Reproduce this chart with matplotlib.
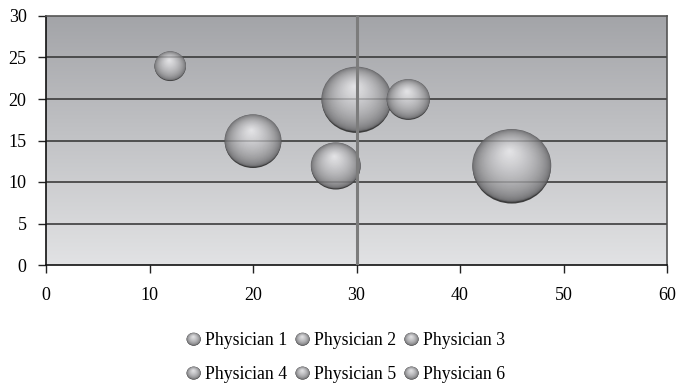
import numpy as np
import matplotlib
matplotlib.use("Agg")
import matplotlib.pyplot as plt
from matplotlib.patches import Ellipse, Patch
from matplotlib.legend_handler import HandlerBase

# data
names = ["Physician 1", "Physician 2", "Physician 3",
         "Physician 4", "Physician 5", "Physician 6"]
xs = [12, 20, 28, 30, 35, 45]
ys = [24, 15, 12, 20, 20, 12]
sizes = [16, 52, 40, 79, 30, 100]

xticks = [0, 10, 20, 30, 40, 50, 60]
yticks = [0, 5, 10, 15, 20, 25, 30]

plt.rcParams['font.family'] = ['Liberation Serif', 'DejaVu Serif']

W, H, DPI = 680, 383, 100
fig = plt.figure(figsize=(W/DPI, H/DPI), dpi=DPI)
left, right, bot, top = 46/W, 667/W, 1-265/H, 1-16/H
ax = fig.add_axes([left, bot, right-left, top-bot])
ax.set_xlim(0, 60)
ax.set_ylim(0, 30)

# gradient background
grad = np.linspace(0, 1, 256)[:, None]
c_top = np.array([0.64, 0.645, 0.66])
c_bot = np.array([0.885, 0.888, 0.895])
img = c_bot[None, None, :] * (1-grad[..., None]) + c_top[None, None, :] * grad[..., None]
ax.imshow(img, extent=[0, 60, 0, 30], origin='lower', aspect='auto', zorder=0)

for yv in yticks[1:-1]:
    ax.axhline(yv, color='#3a3a3a', lw=1.1, zorder=1)
    ax.axhline(yv, color='#3a3a3a', lw=1.1, alpha=0.3, zorder=5)
ax.axvline(30, color='#7c7c7c', lw=2.2, zorder=6)


def sphere(cx, cy, w, h, trans=None, n=45):
    """stack of ellipses that looks like a shaded ball"""
    arts = []
    kw = {} if trans is None else {'transform': trans}
    arts.append(Ellipse((cx, cy - h*0.025), w*0.99, h, color='#3c3c3c', lw=0, **kw))
    dark = np.array([0.40, 0.40, 0.41])
    light = np.array([0.90, 0.90, 0.91])
    hx, hy = -0.06, 0.40
    for i in range(n):
        t = i / n
        s = 1 - t
        c = dark + (light - dark) * t**0.55
        arts.append(Ellipse((cx + hx*t*w/2, cy + hy*t*h/2), w*s, h*s,
                            color=c, lw=0, **kw))
    return arts


# pixel -> data scale
px_x = (right-left)*W/60
px_y = (top-bot)*H/30
dmax = 79
for x, y, s in zip(xs, ys, sizes):
    d = dmax*np.sqrt(s/100)
    for a in sphere(x, y, d/px_x, d*0.92/px_y):
        a.set_zorder(3)
        ax.add_patch(a)


class SphereHandler(HandlerBase):
    def create_artists(self, legend, orig_handle, xdescent, ydescent,
                       width, height, fontsize, trans):
        cx = width/2 - xdescent
        cy = height/2 - ydescent
        r = 0.40*fontsize
        return sphere(cx, cy, 2*r, 1.8*r, trans=trans, n=20)


handles = [Patch(label=n) for n in names]
order = [0, 3, 1, 4, 2, 5]
fig.legend([handles[i] for i in order], [names[i] for i in order],
           handler_map={Patch: SphereHandler()}, ncol=3, frameon=False,
           loc='center', bbox_to_anchor=(0.508, 0.066), fontsize=12.8,
           handlelength=0.85, handletextpad=0.2, columnspacing=0.45,
           labelspacing=0.95)

ax.set_xticks(xticks)
ax.set_yticks(yticks)
ax.tick_params(axis='x', length=6, width=1, pad=10, labelsize=13, color='#222')
ax.tick_params(axis='y', length=6, width=1, pad=8, labelsize=13, color='#222')
for sp in ['top', 'right']:
    ax.spines[sp].set_color('#555')
    ax.spines[sp].set_linewidth(1.2)
for sp in ['left', 'bottom']:
    ax.spines[sp].set_color('#111')
    ax.spines[sp].set_linewidth(1.2)

fig.savefig('out.png', dpi=DPI)
